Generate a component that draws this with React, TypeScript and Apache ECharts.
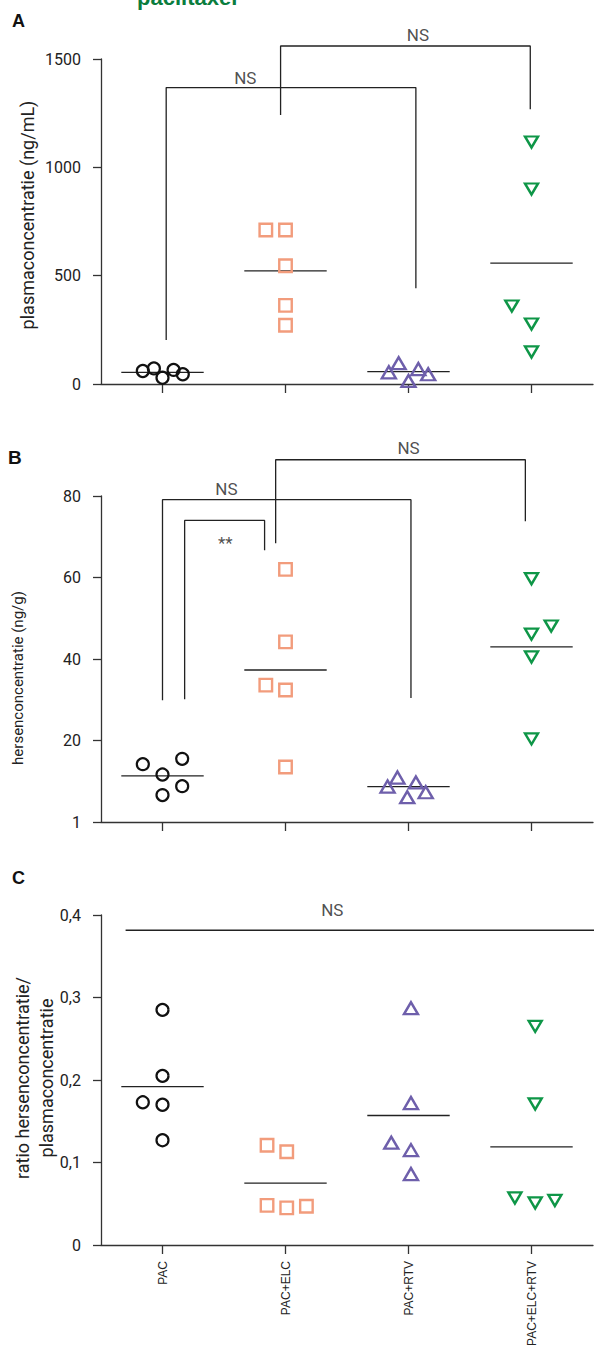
import React, { useEffect, useRef } from "react";
import * as echarts from "echarts";

// ---------- data ----------
const categories = ["PAC", "PAC+ELC", "PAC+RTV", "PAC+ELC+RTV"];

// Panel A: plasmaconcentratie (ng/mL)
const plasmaPAC = [60, 72, 29, 65, 45];
const plasmaELC = [711, 711, 546, 363, 271];
const plasmaRTV = [54, 96, 14, 69, 45];
const plasmaELCRTV = [1117, 900, 360, 277, 148];
const plasmaMeans = [54, 522, 57, 558];
const plasmaTicks = [0, 500, 1000, 1500];

// Panel B: hersenconcentratie (ng/g)
const brainPAC = [14.2, 11.65, 15.5, 8.8, 6.6];
const brainELC = [62.0, 44.2, 33.6, 32.4, 13.5];
const brainRTV = [8.7, 10.9, 6.1, 9.7, 7.3];
const brainELCRTV = [59.7, 48.1, 46.1, 40.5, 20.4];
const brainMeans = [11.3, 37.3, 8.7, 43.0];
const brainTickLabels = ["1", "20", "40", "60", "80"];

// Panel C: ratio
const ratioPAC = [0.285, 0.205, 0.173, 0.17, 0.127];
const ratioELC = [0.121, 0.113, 0.048, 0.045, 0.047];
const ratioRTV = [0.287, 0.172, 0.124, 0.115, 0.086];
const ratioELCRTV = [0.265, 0.171, 0.057, 0.051, 0.054];
const ratioMeans = [0.192, 0.075, 0.157, 0.119];

// horizontal jitter of the points (category units)
const jitterA = [
  [-0.16, -0.07, 0, 0.09, 0.165],
  [-0.16, 0, 0, 0, 0],
  [-0.16, -0.08, 0, 0.08, 0.16],
  [0, 0, -0.16, 0, 0],
];
const jitterB = [
  [-0.16, 0, 0.16, 0.16, 0],
  [0, 0, -0.16, 0, 0],
  [-0.17, -0.09, -0.01, 0.06, 0.14],
  [0, 0.16, 0, 0, 0],
];
const jitterC = [
  [0, 0, -0.16, 0, 0],
  [-0.15, 0.01, -0.15, 0.01, 0.17],
  [0.02, 0.02, -0.14, 0.02, 0.02],
  [0.03, 0.03, -0.135, 0.03, 0.19],
];

// significance brackets: [xLeft, xRight, top, bottomLeft, bottomRight]
const bracketsA = [
  [0.03, 2.06, 1368, 203, 442],
  [0.96, 2.99, 1560, 1241, 1268],
];
const bracketsB = [
  [0.92, 2.95, 88.9, 68.4, 73.8],
  [0.0, 2.02, 79.1, 29.9, 30.4],
  [0.18, 0.83, 74.0, 30.1, 66.7],
];
const lineC = [-0.3, 3.52, 0.3815];

// significance labels: [x, y, text]
const labelsA: [number, number, string][] = [
  [0.673, 1414, "NS"],
  [2.077, 1611, "NS"],
];
const labelsB: [number, number, string][] = [
  [2.0, 91.9, "NS"],
  [0.52, 81.8, "NS"],
  [0.51, 68.4, "**"],
];
const labelsC: [number, number, string][] = [[1.38, 0.4058, "NS"]];

// ---------- styles ----------
const FONT = "Roboto";
const AXIS_COLOR = "#333";
const TEXT_COLOR = "#222";
const groupStyles = [
  { symbol: "circle", size: 12, rotate: 0, color: "#111111", width: 2.2 },
  { symbol: "rect", size: 12.5, rotate: 0, color: "#f29c7c", width: 2.4 },
  { symbol: "triangle", size: [14, 12], rotate: 0, color: "#6e5fab", width: 2.4 },
  { symbol: "triangle", size: [13, 11], rotate: 180, color: "#0e9647", width: 2.4 },
];

const grids = [
  { left: 101, width: 492, top: 59, height: 325 },
  { left: 101, width: 492, top: 496, height: 326 },
  { left: 101, width: 492, top: 915, height: 330 },
];

function buildOption() {
  const panels = [
    { vals: [plasmaPAC, plasmaELC, plasmaRTV, plasmaELCRTV], jit: jitterA, means: plasmaMeans },
    { vals: [brainPAC, brainELC, brainRTV, brainELCRTV], jit: jitterB, means: brainMeans },
    { vals: [ratioPAC, ratioELC, ratioRTV, ratioELCRTV], jit: jitterC, means: ratioMeans },
  ];

  const xAxis: any[] = [];
  grids.forEach((_, p) => {
    xAxis.push({
      type: "category",
      gridIndex: p,
      data: categories,
      boundaryGap: true,
      axisLine: { show: true, onZero: false, lineStyle: { color: AXIS_COLOR, width: 1.3 } },
      axisTick: { show: true, alignWithLabel: true, length: 9, lineStyle: { color: AXIS_COLOR, width: 1.3 } },
      axisLabel: {
        show: p === 2,
        rotate: 90,
        fontSize: 12,
        fontFamily: "Liberation Sans",
        color: TEXT_COLOR,
        margin: 16,
      },
      splitLine: { show: false },
    });
    xAxis.push({
      type: "value",
      gridIndex: p,
      min: -0.5,
      max: 3.5,
      show: false,
    });
  });

  const yBase = {
    type: "value",
    axisLine: { show: true, onZero: false, lineStyle: { color: AXIS_COLOR, width: 1.3 } },
    axisTick: { show: true, length: 8, lineStyle: { color: AXIS_COLOR, width: 1.3 } },
    splitLine: { show: false },
  };
  const labelBase = { fontSize: 16, fontFamily: FONT, color: TEXT_COLOR, margin: 20 };
  const yAxis: any[] = [
    {
      ...yBase,
      gridIndex: 0,
      min: plasmaTicks[0],
      max: plasmaTicks[plasmaTicks.length - 1],
      interval: plasmaTicks[1] - plasmaTicks[0],
      axisLabel: { ...labelBase, formatter: (v: number) => String(v) },
    },
    {
      ...yBase,
      gridIndex: 1,
      min: 0,
      max: 80,
      interval: 20,
      axisLabel: { ...labelBase, formatter: (v: number) => brainTickLabels[Math.round(v / 20)] },
    },
    {
      ...yBase,
      gridIndex: 2,
      min: 0,
      max: 0.4,
      interval: 0.1,
      axisLabel: {
        ...labelBase,
        formatter: (v: number) => (v === 0 ? "0" : v.toFixed(1).replace(".", ",")),
      },
    },
  ];

  const series: any[] = [];
  const lineStyle = { color: "#222", width: 1.3 };
  const addLine = (p: number, data: number[][]) => {
    series.push({
      type: "line",
      xAxisIndex: p * 2 + 1,
      yAxisIndex: p,
      data,
      symbol: "none",
      showSymbol: false,
      clip: false,
      silent: true,
      lineStyle,
      z: 1,
    });
  };

  panels.forEach((panel, p) => {
    panel.vals.forEach((vals, g) => {
      const st = groupStyles[g];
      series.push({
        type: "scatter",
        xAxisIndex: p * 2 + 1,
        yAxisIndex: p,
        data: vals.map((v, i) => [g + panel.jit[g][i], v]),
        symbol: st.symbol,
        symbolSize: st.size,
        symbolRotate: st.rotate,
        itemStyle: { color: "rgba(255,255,255,0)", borderColor: st.color, borderWidth: st.width, opacity: 1 },
        clip: false,
        z: 3,
      });
    });
    panel.means.forEach((m, g) => {
      addLine(p, [
        [g - 0.335, m],
        [g + 0.335, m],
      ]);
    });
  });

  const brackets = [bracketsA, bracketsB];
  brackets.forEach((list, p) => {
    list.forEach(([x0, x1, top, b0, b1]) => {
      addLine(p, [
        [x0, b0],
        [x0, top],
        [x1, top],
        [x1, b1],
      ]);
    });
  });
  addLine(2, [
    [lineC[0], lineC[2]],
    [lineC[1], lineC[2]],
  ]);

  [labelsA, labelsB, labelsC].forEach((labels, p) => {
    series.push({
      type: "scatter",
      xAxisIndex: p * 2 + 1,
      yAxisIndex: p,
      data: labels.map(([x, y, t]) => [x, y, t]),
      symbol: "circle",
      symbolSize: 1,
      itemStyle: { color: "rgba(0,0,0,0)" },
      clip: false,
      silent: true,
      label: {
        show: true,
        position: "inside",
        formatter: (d: any) => d.value[2],
        fontSize: 17,
        fontFamily: FONT,
        color: TEXT_COLOR,
      },
      z: 4,
    });
  });

  const graphic: any[] = [
    {
      type: "text",
      left: 137,
      top: -14,
      style: { text: "paclitaxel", fontSize: 22, fontWeight: "bold", fontFamily: "Liberation Sans", fill: "#0b7d3e" },
    },
    { type: "text", x: 12, y: 12, style: { text: "A", fontSize: 18, fontWeight: "bold", fontFamily: "Liberation Sans", fill: "#111" } },
    { type: "text", x: 8, y: 448, style: { text: "B", fontSize: 19, fontWeight: "bold", fontFamily: "Liberation Sans", fill: "#111" } },
    { type: "text", x: 12, y: 869, style: { text: "C", fontSize: 18, fontWeight: "bold", fontFamily: "Liberation Sans", fill: "#111" } },
    {
      type: "text",
      x: 27,
      y: 215,
      rotation: Math.PI / 2,
      style: {
        text: "plasmaconcentratie (ng/mL)",
        fontSize: 18,
        fontFamily: FONT,
        fill: TEXT_COLOR,
        align: "center",
        verticalAlign: "middle",
      },
    },
    {
      type: "text",
      x: 18,
      y: 678,
      rotation: Math.PI / 2,
      style: {
        text: "hersenconcentratie (ng/g)",
        fontSize: 15,
        fontFamily: FONT,
        fill: TEXT_COLOR,
        align: "center",
        verticalAlign: "middle",
      },
    },
    {
      type: "text",
      x: 34,
      y: 1078,
      rotation: Math.PI / 2,
      style: {
        text: "ratio hersenconcentratie/\nplasmaconcentratie",
        fontSize: 18,
        lineHeight: 24,
        fontFamily: FONT,
        fill: TEXT_COLOR,
        align: "center",
        verticalAlign: "middle",
      },
    },
  ];

  return {
    animation: false,
    backgroundColor: "#ffffff",
    grid: grids,
    xAxis,
    yAxis,
    series,
    graphic,
  };
}

export default function App() {
  const ref = useRef<HTMLDivElement>(null);
  useEffect(() => {
    document.body.style.margin = "0";
    const chart = echarts.init(ref.current!, undefined, { renderer: "svg" });
    chart.setOption(buildOption() as any);
    return () => chart.dispose();
  }, []);
  return <div ref={ref} style={{ width: 594, height: 1350 }} />;
}
